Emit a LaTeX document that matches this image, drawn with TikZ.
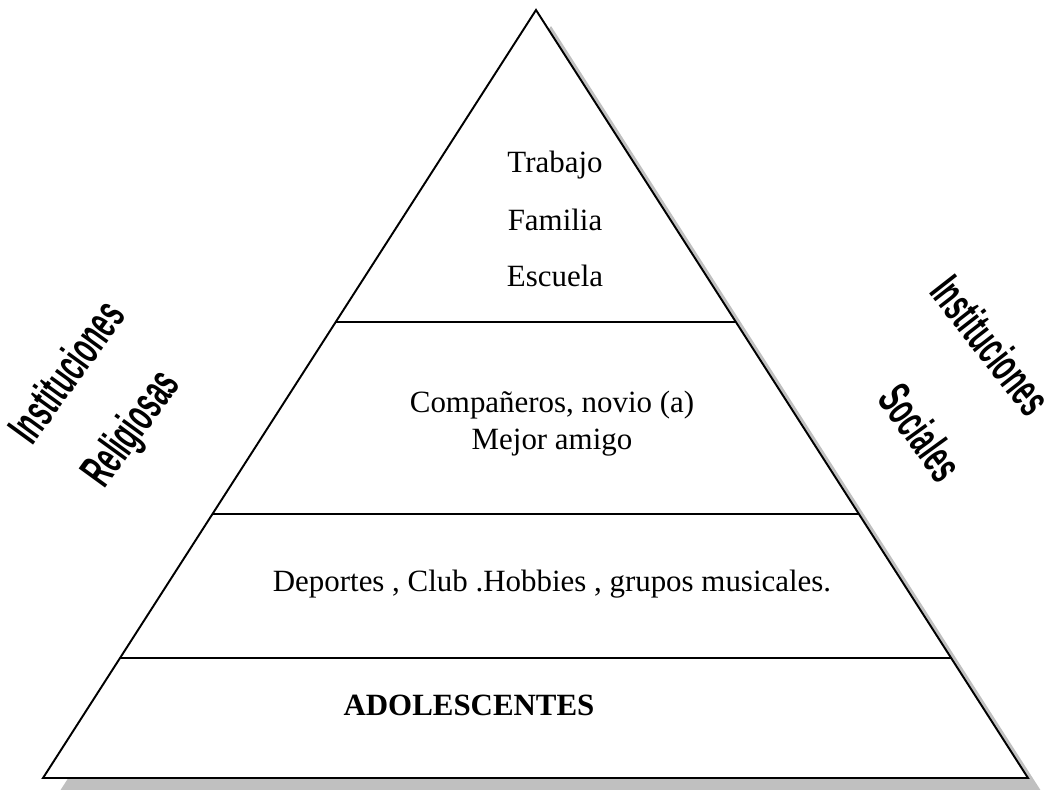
\documentclass[tikz,border=0pt]{standalone}
\usepackage{fontspec}
\setmainfont{Liberation Serif}
\setsansfont{Liberation Sans}
\usepackage{tikz}
\usetikzlibrary{calc,positioning}
\definecolor{shadowgray}{RGB}{192,192,192}
\newcommand{\narrowtext}[1]{\scalebox{0.55}[1]{#1}}
\tikzset{
  level/.style={font=\fontsize{17.6}{21}\selectfont, align=center},
  inst/.style={font=\fontsize{27}{29}\selectfont\sffamily\bfseries, inner sep=0pt}
}
\begin{document}
\begin{tikzpicture}[x=0.02cm, y=-0.02cm]
\useasboundingbox (0,0) rectangle (1054,789);
% Pyramid
\coordinate (T) at (536, 10);
\coordinate (L) at (43, 778);
\coordinate (R) at (1028, 778);

\fill[shadowgray] ($(T)+(15,16)$) -- ($(L)+(15,16)$) -- ($(R)+(15,16)$) -- cycle;
\draw[line width=1.1pt, fill=white, line join=miter] (T) -- (L) -- (R) -- cycle;

% Levels
\draw[line width=0.9pt] ($(T)!0.406!(L)$) -- ($(T)!0.406!(R)$);
\draw[line width=0.9pt] ($(T)!0.656!(L)$) -- ($(T)!0.656!(R)$);
\draw[line width=0.9pt] ($(T)!0.844!(L)$) -- ($(T)!0.844!(R)$);

% Texts inside
\node[level] (trabajo) at (555, 165) {Trabajo};
\node[level] (familia) at (555, 220) {Familia};
\node[level] (escuela) at (555, 276) {Escuela};
\node[level] (pares) at (552, 424) {Compañeros, novio (a)\\Mejor amigo};
\node[level] (grupos) at (552, 584) {Deportes , Club .Hobbies , grupos musicales.};
\node[level, font=\fontsize{17.6}{21}\selectfont\bfseries] (adol) at (469, 705) {ADOLESCENTES};

% Institutions
\node[inst, rotate=54] (instL) at (66, 371) {\narrowtext{Instituciones}};
\node[inst, rotate=54] (relig) at (133, 430) {\narrowtext{Religiosas}};
\node[inst, rotate=-52] (instR) at (991, 345) {\narrowtext{Instituciones}};
\node[inst, rotate=-54] (soc) at (921, 432) {\narrowtext{Sociales}};
\end{tikzpicture}
\end{document}
